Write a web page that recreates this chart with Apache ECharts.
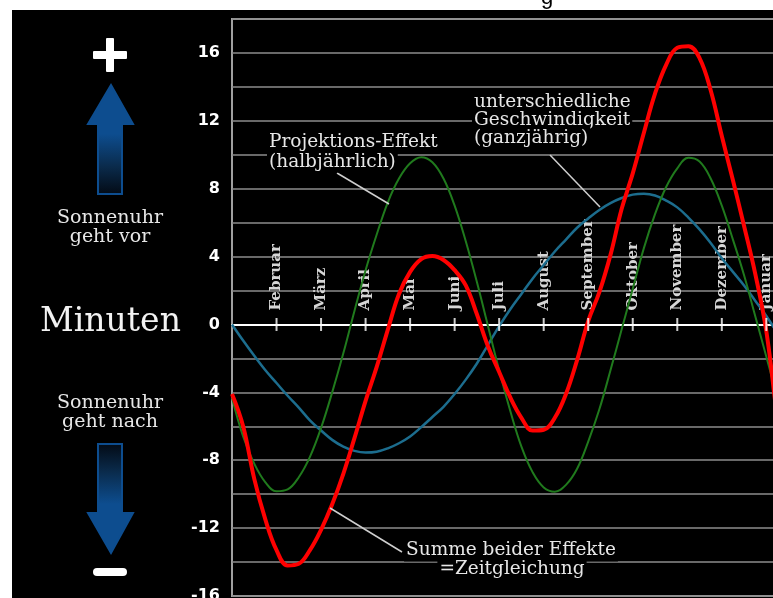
<!DOCTYPE html>
<html><head><meta charset="utf-8">
<script src="https://cdn.jsdelivr.net/npm/echarts@6/dist/echarts.min.js"></script>
<style>
html,body{margin:0;padding:0;background:#fff;overflow:hidden;}
#bg{position:absolute;left:12px;top:10px;width:761px;height:588px;background:#000;}
#chart{position:absolute;left:0;top:0;width:773px;height:598px;}
</style></head><body>
<div id="bg"></div><div id="chart"></div>
<script>
// month positions (0 = 1 January), month labels
const monthNames = ['Februar','März','April','Mai','Juni','Juli','August','September','Oktober','November','Dezember','Januar'];
const monthTicks = [1,2,3,4,5,6,7,8,9,10,11,12];
const yTickLabels = [-16,-12,-8,-4,0,4,8,12,16];
// sample positions in months
const xSteps = [0,0.25,0.5,0.75,1,1.25,1.5,1.75,2,2.25,2.5,2.75,3,3.25,3.5,3.75,4,4.25,4.5,4.75,5,5.25,5.5,5.75,6,6.25,6.5,6.75,7,7.25,7.5,7.75,8,8.25,8.5,8.75,9,9.25,9.5,9.75,10,10.25,10.5,10.75,11,11.25,11.5,11.75,12,12.25,12.5];
// unterschiedliche Geschwindigkeit (ganzjährig) – blue
const blueValues = [0,-0.95,-1.85,-2.7,-3.45,-4.2,-4.9,-5.65,-6.25,-6.8,-7.2,-7.45,-7.55,-7.5,-7.3,-7.0,-6.6,-6.05,-5.45,-4.85,-4.1,-3.25,-2.3,-1.2,-0.1,0.9,1.8,2.7,3.5,4.3,5.0,5.7,6.25,6.75,7.15,7.45,7.65,7.7,7.6,7.3,6.9,6.3,5.6,4.8,3.9,3.1,2.3,1.4,0.5,-0.5,-1.4];
// Projektions-Effekt (halbjährlich) – green
const greenValues = [-4.3,-6.6,-8.2,-9.3,-9.83,-9.72,-9.0,-7.8,-6.1,-4.0,-1.7,0.8,3.2,5.3,7.2,8.6,9.5,9.86,9.56,8.6,7.0,4.9,2.5,-0.1,-2.7,-5.1,-7.2,-8.7,-9.6,-9.85,-9.45,-8.5,-6.9,-5.0,-2.7,-0.3,2.1,4.5,6.5,8.1,9.2,9.82,9.6,8.6,7.0,5.0,2.9,0.5,-1.9,-4.3,-6.5];
// Summe beider Effekte = Zeitgleichung – red
const redValues = [-4.1,-6.0,-9.1,-11.5,-13.3,-14.2,-14.1,-13.3,-12.1,-10.6,-8.8,-6.7,-4.5,-2.5,-0.3,1.8,3.1,3.85,4.03,3.8,3.2,2.3,0.6,-1.3,-2.8,-4.3,-5.5,-6.25,-6.2,-5.5,-4.1,-2.1,0.2,1.9,4.1,6.8,8.9,11.3,13.6,15.3,16.3,16.4,15.7,13.8,11.1,8.5,5.8,3.0,-0.4,-5.6,-10];

const pair = vals => xSteps.map((x, i) => [x, vals[i]]);
const serif = '"DejaVu Serif", serif';
const txt = '#e6e6e6';

const gridTop = 19, gridHeight = 577, yMin = -16, yMax = 18;
const zeroOffset = -gridHeight * (0 - yMin) / (yMax - yMin);

function label(text, x, y, opt) {
  return {
    type: 'text', z: 50,
    style: Object.assign({
      text: text, x: x, y: y, fill: txt, fontFamily: serif, fontSize: 18.5,
      textAlign: 'left', textVerticalAlign: 'middle'
    }, opt || {})
  };
}
function seg(x1, y1, x2, y2) {
  return { type: 'line', z: 49, shape: { x1, y1, x2, y2 }, style: { stroke: '#cfcfcf', lineWidth: 1.5 } };
}
const blue = '#0d4d8f';

const chart = echarts.init(document.getElementById('chart'), null, { renderer: 'canvas' });
chart.setOption({
  backgroundColor: 'transparent',
  animation: false,
  grid: { left: 232, top: gridTop, width: 556.6, height: gridHeight, show: true, borderColor: '#a0a0a0', borderWidth: 2,
          backgroundColor: 'transparent', outerBoundsMode: 'none', containLabel: false },
  xAxis: {
    type: 'value', min: 0, max: 12.5, interval: 1, position: 'bottom', offset: zeroOffset,
    axisLine: { onZero: false, lineStyle: { color: '#ffffff', width: 2 } },
    axisTick: { show: false },
    splitLine: { show: false },
    axisLabel: {
      inside: true, rotate: 90, margin: 14, hideOverlap: false,
      color: '#d6d6d6', fontFamily: serif, fontWeight: 'bold', fontSize: 15,
      showMinLabel: false, showMaxLabel: false,
      formatter: v => (monthTicks.indexOf(v) >= 0 ? monthNames[monthTicks.indexOf(v)] : '')
    }
  },
  yAxis: {
    type: 'value', min: yMin, max: yMax, interval: 2,
    axisLine: { show: false }, axisTick: { show: false },
    splitLine: { show: true, lineStyle: { color: '#8c8c8c', width: 1.5 } },
    axisLabel: {
      color: '#ffffff', fontFamily: '"DejaVu Sans", sans-serif', fontWeight: 'bold', fontSize: 16, margin: 12,
      formatter: v => (yTickLabels.indexOf(v) >= 0 ? String(v) : '')
    }
  },
  series: [
    { type: 'line', data: pair(blueValues), smooth: 0.4, symbol: 'none', z: 3,
      lineStyle: { color: '#1c6d8e', width: 2.5 } },
    { type: 'line', data: pair(greenValues), smooth: 0.4, symbol: 'none', z: 4,
      lineStyle: { color: '#207a1d', width: 2 } },
    { type: 'line', data: pair(redValues), smooth: 0.4, symbol: 'none', z: 5,
      lineStyle: { color: '#ff0000', width: 4 } },
    { type: 'scatter', data: monthTicks.map(m => [m, 0]), symbol: 'rect', symbolSize: [2, 13], z: 6,
      itemStyle: { color: '#ffffff' }, silent: true }
  ],
  graphic: [
    { type: 'text', z: 60, style: { text: 'g', x: 547, y: 9, fill: '#000', fontFamily: '"Liberation Sans", sans-serif', fontSize: 22, textAlign: 'center', textVerticalAlign: 'bottom' } },
    // plus sign
    { type: 'rect', z: 50, shape: { x: 93, y: 51, width: 34, height: 8, r: 1 }, style: { fill: '#fff' } },
    { type: 'rect', z: 50, shape: { x: 106, y: 38, width: 8, height: 34, r: 1 }, style: { fill: '#fff' } },
    // minus sign
    { type: 'rect', z: 50, shape: { x: 93, y: 568, width: 34, height: 8, r: 4 }, style: { fill: '#fff' } },
    // up arrow
    { type: 'polygon', z: 50, shape: { points: [[111, 85], [133, 124], [122, 124], [122, 194], [98, 194], [98, 124], [88, 124]] },
      style: { stroke: blue, lineWidth: 2,
        fill: new echarts.graphic.LinearGradient(0, 0, 0, 1, [
          { offset: 0, color: blue }, { offset: 0.45, color: blue }, { offset: 0.75, color: '#0a2a4a' }, { offset: 1, color: '#030a14' }]) } },
    // down arrow
    { type: 'polygon', z: 50, shape: { points: [[98, 444], [122, 444], [122, 513], [133, 513], [111, 553], [88, 513], [98, 513]] },
      style: { stroke: blue, lineWidth: 2,
        fill: new echarts.graphic.LinearGradient(0, 0, 0, 1, [
          { offset: 0, color: '#030a14' }, { offset: 0.25, color: '#0a2a4a' }, { offset: 0.55, color: blue }, { offset: 1, color: blue }]) } },
    label('Sonnenuhr', 110, 218, { textAlign: 'center', fontSize: 19 }),
    label('geht vor', 110, 237, { textAlign: 'center', fontSize: 19 }),
    label('Sonnenuhr', 110, 403, { textAlign: 'center', fontSize: 19 }),
    label('geht nach', 110, 422, { textAlign: 'center', fontSize: 19 }),
    label('Minuten', 40, 322, { fontSize: 33, fill: '#f2f2f2' }),
    // annotations
    seg(337, 173, 389, 204),
    label('Projektions-Effekt', 267, 142, { backgroundColor: '#000', padding: [1, 2] }),
    label('(halbjährlich)', 267, 162, { backgroundColor: '#000', padding: [1, 2] }),
    seg(550, 155, 600, 207),
    label('unterschiedliche', 472, 102, { backgroundColor: '#000', padding: [1, 2] }),
    label('Geschwindigkeit', 472, 120, { backgroundColor: '#000', padding: [1, 2] }),
    label('(ganzjährig)', 472, 138, { backgroundColor: '#000', padding: [1, 2, 6, 2] }),
    seg(330, 508, 402, 552),
    label('Summe beider Effekte', 511, 550, { textAlign: 'center', backgroundColor: '#000', padding: [2, 2] }),
    label('=Zeitgleichung', 512, 569, { textAlign: 'center', backgroundColor: '#000', padding: [0, 2] })
  ]
});
</script></body></html>
